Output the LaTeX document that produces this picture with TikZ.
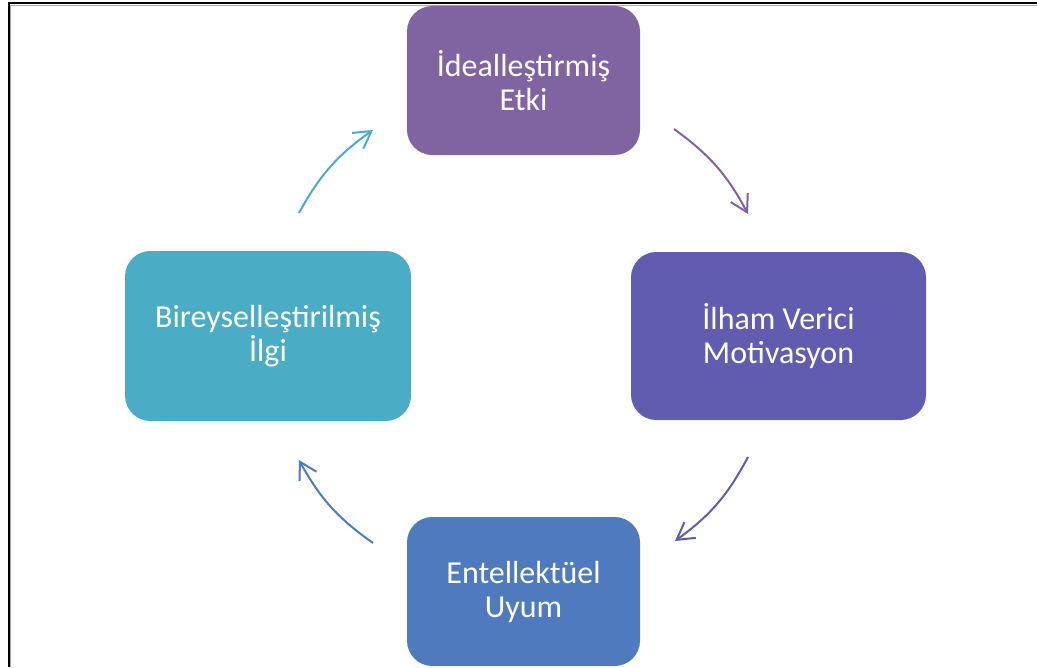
\documentclass[tikz,border=0pt]{standalone}
\usepackage{fontspec}
\setmainfont{Carlito}
\usetikzlibrary{arrows.meta}

\definecolor{cPurple}{RGB}{128,100,162}
\definecolor{cViolet}{RGB}{96,93,176}
\definecolor{cBlue}{RGB}{79,123,190}
\definecolor{cAqua}{RGB}{75,172,198}
\definecolor{frameShade}{RGB}{170,170,170}

\tikzset{
  card/.style={rounded corners=19pt, draw=none, fill=#1, text=white,
    align=center, inner sep=0pt,
    font=\fontsize{24}{25.5}\selectfont},
  cycle/.style={line width=1.5pt, draw=#1, bend left=13,
    -{Straight Barb[length=12.5pt,width=14.5pt,line width=1.5pt]}},
}

\begin{document}
\begin{tikzpicture}[x=0.75pt,y=-0.75pt]
  \useasboundingbox (0,0) rectangle (1037,667);
  % page frame (top and left edges)
  \draw[frameShade, line width=0.9pt] (10.2,667) -- (10.2,5.2) -- (1037,5.2);
  \draw[black, line width=1.5pt] (8.5,667) -- (8.5,3.5) -- (1037,3.5);

  % the four boxes
  \node[card=cPurple, minimum width=174.75pt, minimum height=111.75pt]
    (ideal) at (523.5,80.5) {İdealleştirmiş\\Etki};
  \node[card=cViolet, minimum width=221.25pt, minimum height=126pt]
    (ilham) at (778.5,336) {İlham Verici\\Motivasyon};
  \node[card=cBlue, minimum width=174.75pt, minimum height=111.75pt]
    (entel) at (523.5,591.5) {Entellektüel\\Uyum};
  \node[card=cAqua, minimum width=214.5pt, minimum height=127.5pt]
    (birey) at (268,336) {Bireyselleştirilmiş\\İlgi};

  % arrow end points around the cycle
  \coordinate (a1s) at (299,213);  \coordinate (a1e) at (373,130);
  \coordinate (a2s) at (674,129);  \coordinate (a2e) at (748,214);
  \coordinate (a3s) at (748,457);  \coordinate (a3e) at (675,541);
  \coordinate (a4s) at (373,543);  \coordinate (a4e) at (299,460);

  \draw[cycle=cAqua]   (a1s) to (a1e);
  \draw[cycle=cPurple] (a2s) to (a2e);
  \draw[cycle=cViolet] (a3s) to (a3e);
  \draw[cycle=cBlue]   (a4s) to (a4e);
\end{tikzpicture}
\end{document}
